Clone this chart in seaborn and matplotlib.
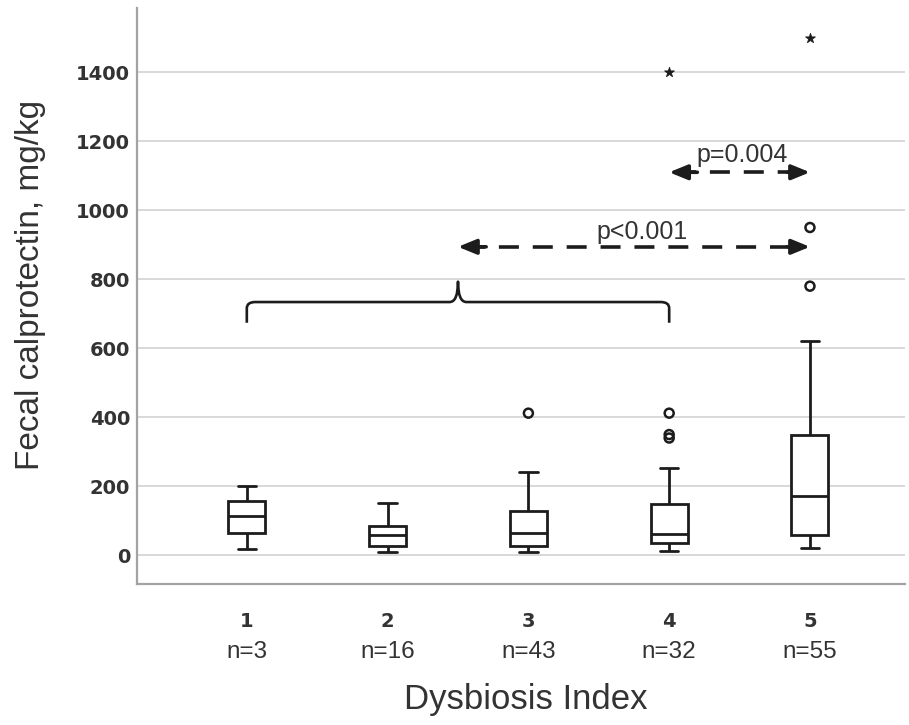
import matplotlib
matplotlib.use("Agg")
import matplotlib.pyplot as plt
from matplotlib.path import Path
from matplotlib.patches import PathPatch
import pandas as pd
import seaborn as sns

# Five-number summaries of fecal calprotectin per Dysbiosis Index group
groups = ["1", "2", "3", "4", "5"]
n_counts = [3, 16, 43, 32, 55]
whisker_low = [17, 9, 9, 12, 20]
q1 = [64, 26, 26, 35, 58]
medians = [113, 58, 64, 61, 171]
q3 = [157, 84, 128, 148, 348]
whisker_high = [200, 151, 241, 252, 620]

# Outliers (open circles) and extreme values (stars)
outlier_groups = ["3", "4", "4", "4", "5", "5"]
outlier_values = [412, 412, 350, 340, 780, 950]
extreme_groups = ["4", "5"]
extreme_values = [1400, 1500]

y_ticks = [0, 200, 400, 600, 800, 1000, 1200, 1400]

# Long table: each group holds exactly its five summary values, so the
# quartiles of the table are the summary values themselves
summary = pd.DataFrame({
    "group": [g for g in groups for _ in range(5)],
    "value": [v for i in range(len(groups))
              for v in (whisker_low[i], q1[i], medians[i], q3[i], whisker_high[i])],
})

sns.set_style("white")
plt.rcParams["font.family"] = ["DejaVu Sans"]

INK = "#1c1c1c"
TXT = "#333333"

fig = plt.figure(figsize=(9.09, 7.25), dpi=100)
ax = fig.add_axes([137 / 909, 1 - 584 / 725, (905 - 137) / 909, (584 - 8) / 725])

for y in y_ticks:
    ax.axhline(y, color="#d6d6d6", lw=1.3, zorder=0)

sns.boxplot(data=summary, x="group", y="value", order=groups, whis=(0, 100),
            width=0.263, showfliers=False, color="white", linecolor=INK,
            linewidth=2.0, saturation=1, ax=ax, zorder=3)

pos = {g: i for i, g in enumerate(groups)}
sns.scatterplot(x=[pos[g] for g in outlier_groups], y=outlier_values,
                marker="o", s=42, color="none", edgecolor=INK, linewidth=1.8,
                ax=ax, zorder=4)
sns.scatterplot(x=[pos[g] for g in extreme_groups], y=extreme_values,
                marker="*", s=55, color=INK, edgecolor=INK, linewidth=0.6,
                ax=ax, zorder=4)

ax.set_xlim(-0.78, 4.675)
ax.set_ylim(-83, 1586)

# Axes styling
for side in ("top", "right"):
    ax.spines[side].set_visible(False)
for side in ("left", "bottom"):
    ax.spines[side].set_color("#a3a3a3")
    ax.spines[side].set_linewidth(1.6)

ax.set_yticks(y_ticks)
ax.set_yticklabels([str(t) for t in y_ticks], fontsize=14, fontweight="bold",
                   color=TXT)
ax.set_xticks(range(len(groups)))
ax.set_xticklabels(groups, fontsize=14, fontweight="bold", color=TXT)
ax.tick_params(axis="y", length=4, width=1.2, color="#b5b5b5", pad=1)
ax.tick_params(axis="x", length=8, width=1.2, color="#b5b5b5", pad=12)

for i, n in enumerate(n_counts):
    ax.annotate(f"n={n}", xy=(i, 0), xycoords=("data", "axes fraction"),
                xytext=(0, -53), textcoords="offset points", ha="center",
                va="baseline", fontsize=17.5, family="Liberation Sans",
                color=TXT)

ax.set_xlabel("Dysbiosis Index", fontsize=25, family="Liberation Sans",
              color=TXT)
ax.xaxis.set_label_coords((526 - 137) / 768, (584 - 709) / 576)
ax.xaxis.label.set_verticalalignment("baseline")
ax.set_ylabel("Fecal calprotectin, mg/kg", fontsize=24,
              family="Liberation Sans", color=TXT)
ax.yaxis.set_label_coords((31 - 137) / 768, 0.52)
ax.yaxis.label.set_verticalalignment("center")

# Curly brace spanning groups 1-4
by, tip, end = 734, 793, 674
brace = Path(
    [(0.0, end), (0.0, 716), (0.0, by), (0.06, by), (1.44, by),
     (1.5, by), (1.5, tip), (1.5, by), (1.56, by), (2.94, by),
     (3.0, by), (3.0, 716), (3.0, end)],
    [Path.MOVETO, Path.LINETO, Path.CURVE3, Path.CURVE3, Path.LINETO,
     Path.CURVE3, Path.CURVE3, Path.CURVE3, Path.CURVE3, Path.LINETO,
     Path.CURVE3, Path.CURVE3, Path.LINETO])
ax.add_patch(PathPatch(brace, fill=False, lw=1.9, edgecolor=INK, zorder=5,
                       capstyle="butt", joinstyle="round"))


def dashed_arrow(x0, x1, y, left_head=True, right_head=True):
    lw = 2.6
    ax.plot([x0 + 0.05, x1 - 0.05], [y, y], color=INK, lw=lw,
            ls=(0, (14.4 / lw, 10.0 / lw)), solid_capstyle="butt",
            dash_capstyle="butt", zorder=5)
    style = "-|>,head_length=1.1,head_width=0.45"
    if left_head:
        ax.annotate("", xy=(x0, y), xytext=(x0 + 0.2, y),
                    arrowprops=dict(arrowstyle=style, lw=lw, color=INK,
                                    shrinkA=0, shrinkB=0), zorder=6)
    if right_head:
        ax.annotate("", xy=(x1, y), xytext=(x1 - 0.16, y),
                    arrowprops=dict(arrowstyle=style, lw=lw, color=INK,
                                    shrinkA=0, shrinkB=0), zorder=6)


dashed_arrow(3.0, 4.0, 1110)
ax.text(3.52, 1140, "p=0.004", ha="center", va="baseline", fontsize=18,
        family="Liberation Sans", color=TXT, zorder=6)
dashed_arrow(1.5, 4.0, 894)
ax.text(2.81, 917, "p<0.001", ha="center", va="baseline", fontsize=18,
        family="Liberation Sans", color=TXT, zorder=6)

fig.savefig("out.png", dpi=100)
